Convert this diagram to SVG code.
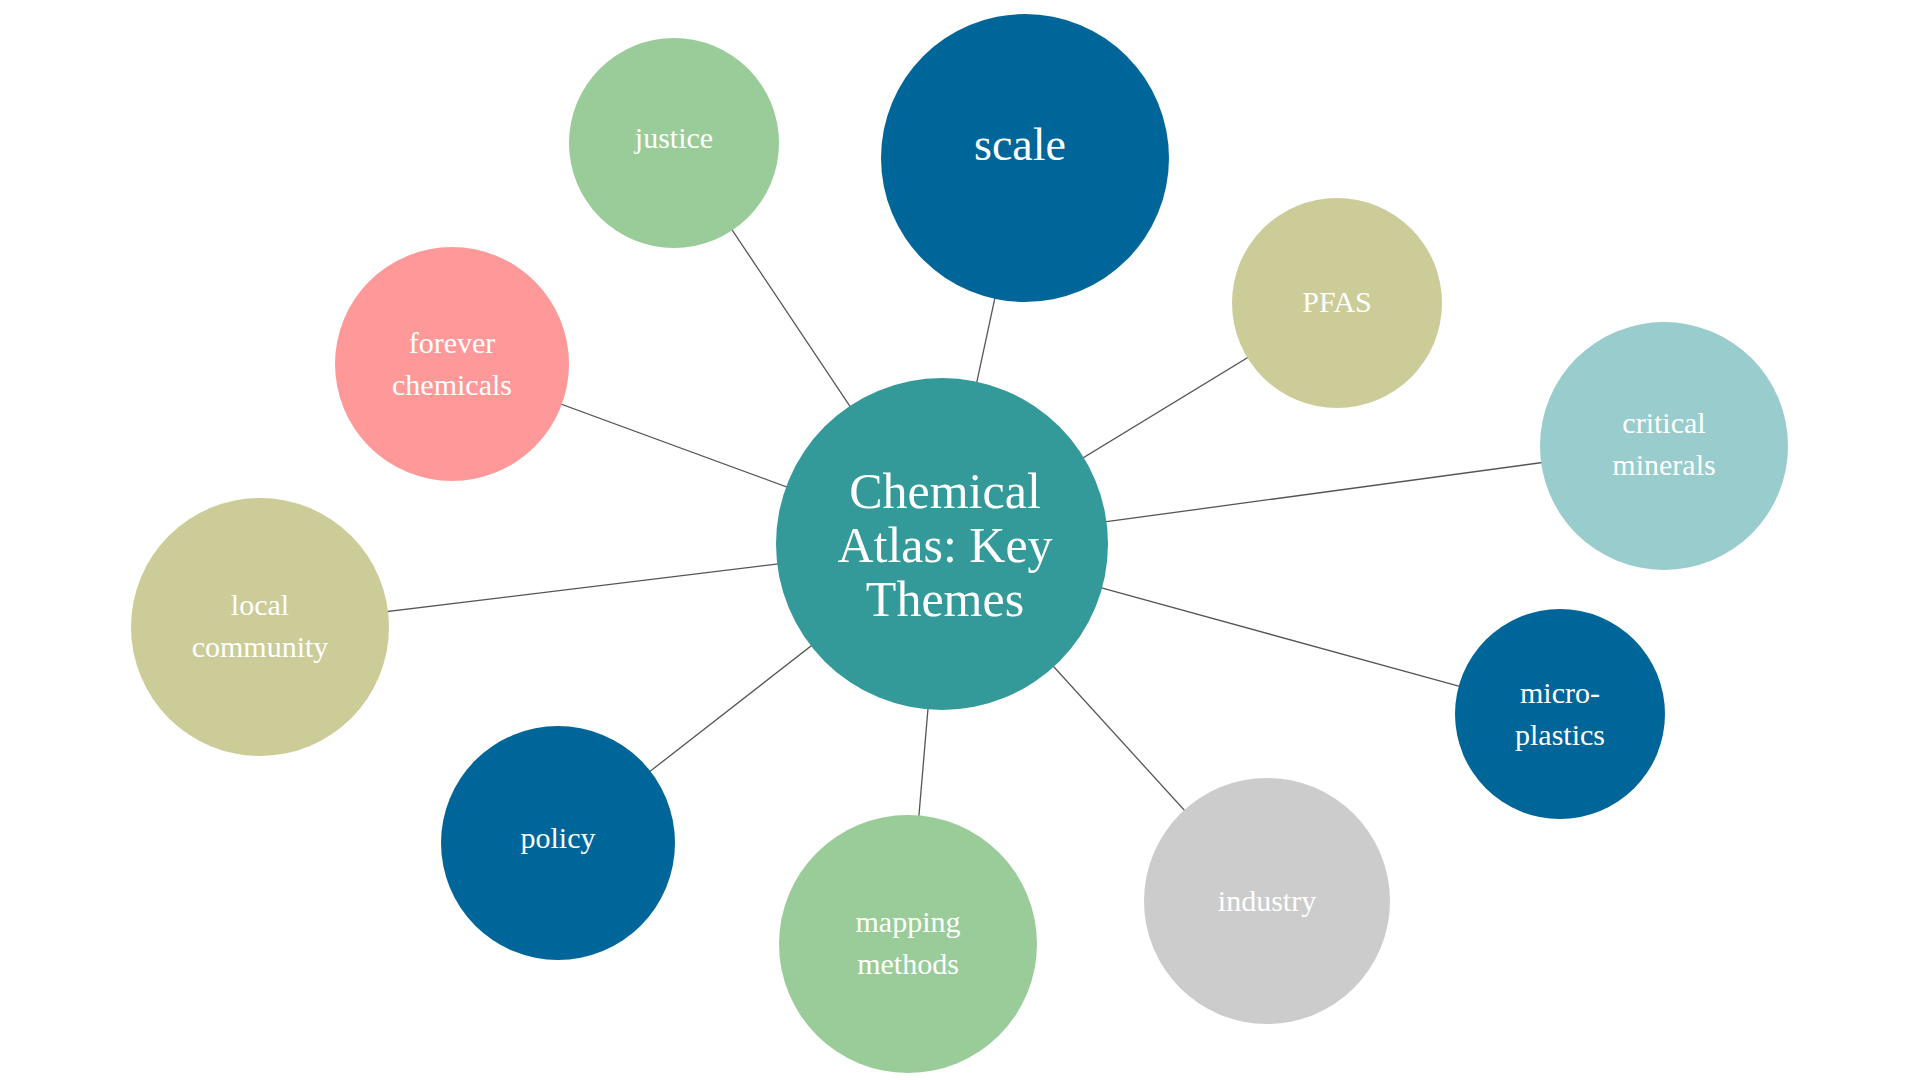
<svg xmlns="http://www.w3.org/2000/svg" width="1920" height="1080" viewBox="0 0 1920 1080">
<style>
text{font-family:"Liberation Serif",serif;fill:#fff;text-anchor:middle}
.s{font-size:30px}
.e{stroke:#555;stroke-width:1.3}
</style>
<rect width="1920" height="1080" fill="#fff"/>
<g id="connectors">
<line class="e" x1="942" y1="544" x2="1025" y2="158"/>
<line class="e" x1="942" y1="544" x2="674" y2="143"/>
<line class="e" x1="942" y1="544" x2="1337" y2="303"/>
<line class="e" x1="942" y1="544" x2="452" y2="364"/>
<line class="e" x1="942" y1="544" x2="1664" y2="446"/>
<line class="e" x1="942" y1="544" x2="260" y2="627"/>
<line class="e" x1="942" y1="544" x2="1560" y2="714"/>
<line class="e" x1="942" y1="544" x2="558" y2="843"/>
<line class="e" x1="942" y1="544" x2="908" y2="944"/>
<line class="e" x1="942" y1="544" x2="1267" y2="901"/>
</g>
<g id="scale"><circle cx="1025" cy="158" r="144" fill="#006699"/><text x="1020" y="160" font-size="46">scale</text></g>
<g id="justice"><circle cx="674" cy="143" r="105" fill="#99CC99"/><text class="s" x="674" y="148">justice</text></g>
<g id="pfas"><circle cx="1337" cy="303" r="105" fill="#CCCC99"/><text class="s" x="1337" y="312">PFAS</text></g>
<g id="forever"><circle cx="452" cy="364" r="117" fill="#FF9999"/><text class="s" x="452" y="353">forever</text><text class="s" x="452" y="395">chemicals</text></g>
<g id="critical"><circle cx="1664" cy="446" r="124" fill="#99CCCC"/><text class="s" x="1664" y="433">critical</text><text class="s" x="1664" y="475">minerals</text></g>
<g id="local"><circle cx="260" cy="627" r="129" fill="#CCCC99"/><text class="s" x="260" y="615">local</text><text class="s" x="260" y="657">community</text></g>
<g id="micro"><circle cx="1560" cy="714" r="105" fill="#006699"/><text class="s" x="1560" y="703">micro-</text><text class="s" x="1560" y="745">plastics</text></g>
<g id="policy"><circle cx="558" cy="843" r="117" fill="#006699"/><text class="s" x="558" y="848">policy</text></g>
<g id="mapping"><circle cx="908" cy="944" r="129" fill="#99CC99"/><text class="s" x="908" y="932">mapping</text><text class="s" x="908" y="974">methods</text></g>
<g id="industry"><circle cx="1267" cy="901" r="123" fill="#CCCCCC"/><text class="s" x="1267" y="911">industry</text></g>
<g id="center"><circle cx="942" cy="544" r="166" fill="#339999"/>
<text font-size="50" x="945" y="508">Chemical</text><text font-size="50" x="945" y="562">Atlas: Key</text><text font-size="50" x="945" y="616">Themes</text></g>
</svg>
